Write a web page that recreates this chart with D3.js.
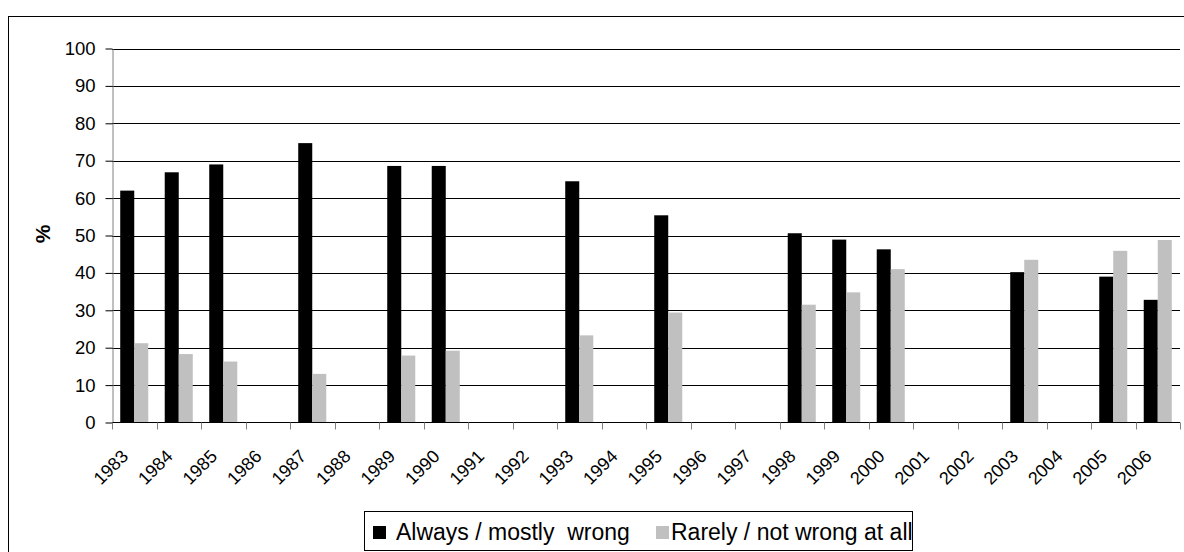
<!DOCTYPE html>
<html>
<head>
<meta charset="utf-8">
<script src="https://cdn.jsdelivr.net/npm/d3@7"></script>
<style>
  html, body { margin: 0; padding: 0; background: #fff; }
  svg { display: block; font-family: "Liberation Sans", Arial, sans-serif; }
</style>
</head>
<body>
<div id="chart"></div>
<script>
const years = ["1983","1984","1985","1986","1987","1988","1989","1990","1991","1992","1993","1994","1995","1996","1997","1998","1999","2000","2001","2002","2003","2004","2005","2006"];
const alwaysWrong = [62.0, 66.9, 69.0, null, 74.7, null, 68.6, 68.6, null, null, 64.5, null, 55.4, null, null, 50.6, 48.9, 46.3, null, null, 40.2, null, 39.0, 32.8];
const notWrong    = [21.2, 18.3, 16.3, null, 13.0, null, 17.9, 19.2, null, null, 23.3, null, 29.4, null, null, 31.5, 34.8, 41.0, null, null, 43.5, null, 45.9, 48.8];
const seriesNames = ["Always / mostly  wrong", "Rarely / not wrong at all"];
const seriesColors = ["#000000", "#c0c0c0"];
const yTicks = [0,10,20,30,40,50,60,70,80,90,100];
const yTitle = "%";

(function () {
const W = 1184, H = 552;
const svg = d3.select("#chart").append("svg").attr("width", W).attr("height", H);

// outer frame
svg.append("rect").attr("x", 8.5).attr("y", 16.5).attr("width", W).attr("height", H)
  .attr("fill", "none").attr("stroke", "#000").attr("stroke-width", 1);

const pLeft = 112, pRight = 1180, pTop = 48.5, pBottom = 422.5;
const x = d3.scaleBand().domain(years).range([pLeft, pRight]).paddingInner(0).paddingOuter(0);
const y = d3.scaleLinear().domain([0, 100]).range([pBottom, pTop]);

// gridlines
svg.append("g").selectAll("line").data(yTicks.filter(d => d > 0)).join("line")
  .attr("x1", pLeft).attr("x2", pRight)
  .attr("y1", d => Math.round(y(d)) + 0.5).attr("y2", d => Math.round(y(d)) + 0.5)
  .attr("stroke", "#000").attr("stroke-width", 1);

// bars
const groupW = x.bandwidth() * 0.63;
const off = (x.bandwidth() - groupW) / 2;
const x1 = d3.scaleBand().domain([0, 1]).range([0, groupW]).padding(0);
const rows = [];
years.forEach((yr, i) => {
  [alwaysWrong[i], notWrong[i]].forEach((v, s) => {
    if (v != null) rows.push({yr, s, v});
  });
});
svg.append("g").selectAll("rect").data(rows).join("rect")
  .attr("x", d => x(d.yr) + off + x1(d.s))
  .attr("y", d => y(d.v))
  .attr("width", x1.bandwidth())
  .attr("height", d => pBottom - y(d.v))
  .attr("fill", d => seriesColors[d.s]);

// y axis
const yAxis = svg.append("g").attr("transform", `translate(${pLeft + 0.5},0)`)
  .call(d3.axisLeft(y).tickValues(yTicks).tickSize(7).tickSizeOuter(0).tickPadding(10));
yAxis.select(".domain").attr("stroke", "#808080");
yAxis.selectAll(".tick line").attr("stroke", "#000");
yAxis.selectAll("text").attr("font-size", 18.5).attr("fill", "#000")
  .attr("font-family", "'Liberation Sans', Arial, sans-serif");

// x axis
const xTickScale = d3.scalePoint().domain(d3.range(years.length + 1)).range([pLeft, pRight]);
const xAxisG = svg.append("g").attr("transform", `translate(0,${pBottom})`);
xAxisG.append("line").attr("x1", pLeft).attr("x2", pRight).attr("y1", 0).attr("y2", 0)
  .attr("stroke", "#000");
xAxisG.selectAll("line.tk").data(d3.range(years.length + 1)).join("line").attr("class", "tk")
  .attr("x1", d => Math.round(xTickScale(d)) + 0.5).attr("x2", d => Math.round(xTickScale(d)) + 0.5)
  .attr("y1", 0).attr("y2", 7).attr("stroke", "#808080");
xAxisG.selectAll("text").data(years).join("text")
  .attr("transform", d => `translate(${x(d) + x.bandwidth() / 2 - 5},${35}) rotate(-45)`)
  .attr("text-anchor", "end")
  .attr("font-size", 18)
  .attr("fill", "#000")
  .text(d => d);

// y title
svg.append("text")
  .attr("transform", `translate(50,234) rotate(-90)`)
  .attr("text-anchor", "middle")
  .attr("font-size", 21).attr("font-weight", "bold")
  .text(yTitle);

// legend
const lg = svg.append("g");
lg.append("rect").attr("x", 364.5).attr("y", 511.5).attr("width", 548).attr("height", 39)
  .attr("fill", "#fff").attr("stroke", "#000");
const legendX = [373, 656];
seriesNames.forEach((n, i) => {
  lg.append("rect").attr("x", legendX[i]).attr("y", 526).attr("width", 13).attr("height", 13)
    .attr("fill", seriesColors[i]);
  lg.append("text").attr("x", legendX[i] + (i === 0 ? 23 : 15)).attr("y", 540)
    .attr("font-size", 23).attr("xml:space", "preserve").style("white-space", "pre")
    .text(n);
});
})();
</script>
</body>
</html>
